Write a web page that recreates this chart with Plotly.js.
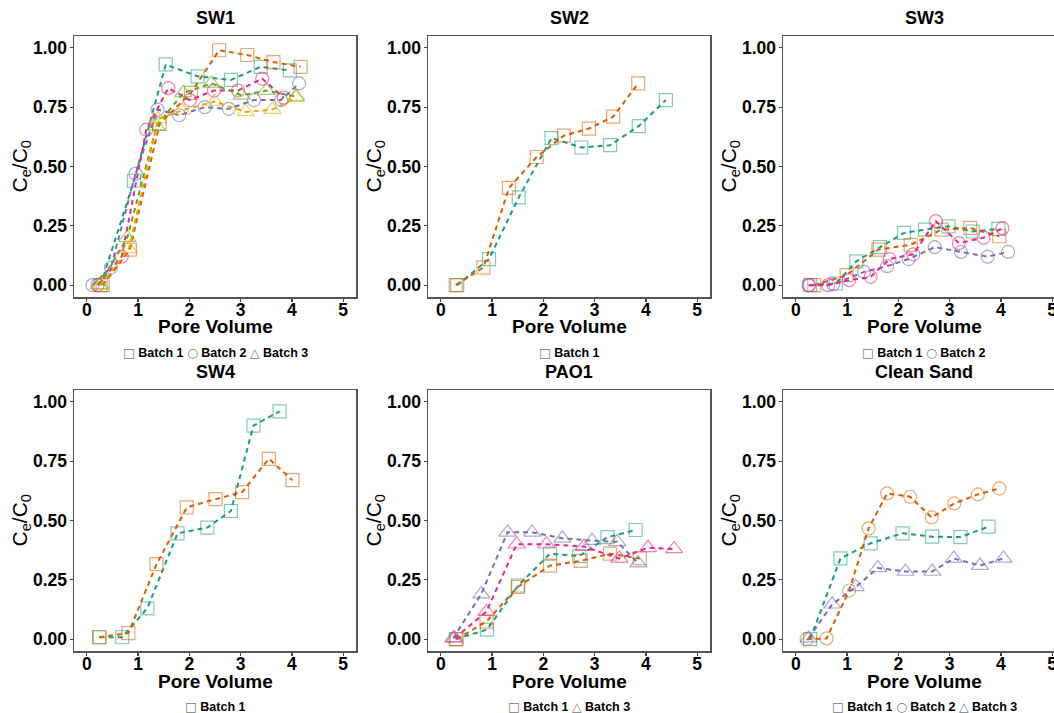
<!DOCTYPE html>
<html><head><meta charset="utf-8">
<script src="https://cdn.plot.ly/plotly-3.0.1.min.js"></script>
<style>html,body{margin:0;padding:0;overflow:hidden;background:#fff}#chart{width:1070px;height:713px}</style>
</head><body><div id="chart"></div>
<script>
// ---------- DATA ----------
const panelTitles = ["SW1", "SW2", "SW3", "SW4", "PAO1", "Clean Sand"];
const legendTexts = [
  ["Batch 1", "Batch 2", "Batch 3"],
  ["Batch 1"],
  ["Batch 1", "Batch 2"],
  ["Batch 1"],
  ["Batch 1", "Batch 3"],
  ["Batch 1", "Batch 2", "Batch 3"]
];
const xTickVals = [0, 1, 2, 3, 4, 5];
const yTickVals = [0, 0.25, 0.5, 0.75, 1.0];

// SW1
const sw1_a_x = [0.27, 0.92, 1.54, 2.16, 2.81, 3.39, 3.96];
const sw1_a_y = [0.00, 0.44, 0.93, 0.88, 0.865, 0.92, 0.905];
const sw1_b_x = [0.31, 0.84, 1.42, 2.03, 2.58, 3.13, 3.64, 4.17];
const sw1_b_y = [0.00, 0.15, 0.68, 0.81, 0.99, 0.97, 0.94, 0.92];
const sw1_c_x = [0.11, 0.47, 0.95, 1.38, 1.80, 2.30, 2.77, 3.26, 3.79, 4.14];
const sw1_c_y = [0.00, 0.074, 0.47, 0.74, 0.716, 0.75, 0.743, 0.78, 0.78, 0.85];
const sw1_d_x = [0.21, 0.68, 1.16, 1.59, 2.01, 2.48, 2.95, 3.42, 3.84];
const sw1_d_y = [0.00, 0.12, 0.655, 0.83, 0.78, 0.82, 0.82, 0.87, 0.79];
const sw1_e_x = [0.24, 0.79, 1.36, 1.88, 2.43, 3.02, 3.50, 4.08];
const sw1_e_y = [0.00, 0.20, 0.67, 0.81, 0.85, 0.80, 0.82, 0.795];
const sw1_f_x = [0.27, 0.82, 1.39, 1.85, 2.49, 3.10, 3.62, 4.08];
const sw1_f_y = [0.00, 0.153, 0.70, 0.736, 0.774, 0.73, 0.74, 0.79];
// SW2
const sw2_a_x = [0.32, 0.94, 1.52, 2.16, 2.74, 3.30, 3.86, 4.39];
const sw2_a_y = [0.00, 0.11, 0.37, 0.62, 0.58, 0.59, 0.67, 0.78];
const sw2_b_x = [0.29, 0.83, 1.33, 1.87, 2.40, 2.89, 3.36, 3.85];
const sw2_b_y = [0.00, 0.074, 0.41, 0.54, 0.63, 0.66, 0.71, 0.85];
// SW3
const sw3_a_x = [0.28, 0.78, 1.18, 1.64, 2.11, 2.52, 2.98, 3.45, 3.95];
const sw3_a_y = [0.00, 0.007, 0.10, 0.16, 0.22, 0.234, 0.248, 0.226, 0.237];
const sw3_b_x = [0.36, 0.99, 1.61, 2.24, 2.84, 3.40, 3.97];
const sw3_b_y = [0.00, 0.042, 0.15, 0.17, 0.234, 0.241, 0.206];
const sw3_c_x = [0.26, 0.73, 1.33, 1.78, 2.20, 2.71, 3.22, 3.74, 4.14];
const sw3_c_y = [0.00, 0.004, 0.056, 0.08, 0.11, 0.16, 0.14, 0.12, 0.14];
const sw3_d_x = [0.25, 0.63, 1.04, 1.46, 1.83, 2.29, 2.73, 3.18, 3.66, 4.03];
const sw3_d_y = [0.00, 0.00, 0.021, 0.035, 0.11, 0.13, 0.27, 0.177, 0.20, 0.24];
// SW4
const sw4_a_x = [0.25, 0.69, 1.18, 1.77, 2.35, 2.81, 3.25, 3.76];
const sw4_a_y = [0.008, 0.008, 0.13, 0.446, 0.47, 0.54, 0.90, 0.96];
const sw4_b_x = [0.24, 0.81, 1.36, 1.95, 2.51, 3.03, 3.55, 4.01];
const sw4_b_y = [0.008, 0.025, 0.316, 0.555, 0.59, 0.62, 0.76, 0.67];
// PAO1
const pao_a_x = [0.29, 0.90, 1.51, 2.13, 2.70, 3.25, 3.80];
const pao_a_y = [0.00, 0.04, 0.226, 0.36, 0.35, 0.43, 0.46];
const pao_b_x = [0.31, 0.89, 1.50, 2.13, 2.73, 3.30, 3.88];
const pao_b_y = [0.00, 0.074, 0.22, 0.31, 0.33, 0.36, 0.34];
const pao_c_x = [0.24, 0.79, 1.30, 1.78, 2.37, 2.95, 3.44, 3.85];
const pao_c_y = [0.004, 0.19, 0.45, 0.45, 0.425, 0.415, 0.41, 0.32];
const pao_d_x = [0.27, 0.89, 1.48, 2.06, 2.79, 3.48, 4.04, 4.55];
const pao_d_y = [0.004, 0.116, 0.40, 0.40, 0.39, 0.34, 0.385, 0.38];
// Clean Sand
const cs_a_x = [0.28, 0.87, 1.46, 2.08, 2.66, 3.21, 3.76];
const cs_a_y = [0.00, 0.34, 0.404, 0.446, 0.432, 0.43, 0.474];
const cs_b_x = [0.21, 0.60, 1.04, 1.42, 1.78, 2.23, 2.65, 3.09, 3.55, 3.97];
const cs_b_y = [0.00, 0.003, 0.205, 0.467, 0.614, 0.60, 0.513, 0.572, 0.61, 0.635];
const cs_c_x = [0.25, 0.71, 1.17, 1.60, 2.14, 2.66, 3.08, 3.59, 4.05];
const cs_c_y = [0.004, 0.147, 0.22, 0.30, 0.285, 0.285, 0.34, 0.31, 0.34];

// ---------- STYLE ----------
const COL = {
  green: ["#1B9E77", "rgba(27,158,119,0.55)"],
  orange: ["#D95F02", "rgba(217,95,2,0.55)"],
  purple: ["#7570B3", "rgba(117,112,179,0.6)"],
  pink: ["#E7298A", "rgba(231,41,138,0.6)"],
  lgreen: ["#66A61E", "rgba(102,166,30,0.6)"],
  yellow: ["#E6AB02", "rgba(230,171,2,0.6)"]
};
const SYM = {sq: "square-open", ci: "circle-open", tr: "triangle-up-open"};

const series = [
  [0, sw1_a_x, sw1_a_y, "green", "sq"],
  [0, sw1_b_x, sw1_b_y, "orange", "sq"],
  [0, sw1_c_x, sw1_c_y, "purple", "ci"],
  [0, sw1_d_x, sw1_d_y, "pink", "ci"],
  [0, sw1_e_x, sw1_e_y, "lgreen", "tr"],
  [0, sw1_f_x, sw1_f_y, "yellow", "tr"],
  [1, sw2_a_x, sw2_a_y, "green", "sq"],
  [1, sw2_b_x, sw2_b_y, "orange", "sq"],
  [2, sw3_a_x, sw3_a_y, "green", "sq"],
  [2, sw3_b_x, sw3_b_y, "orange", "sq"],
  [2, sw3_c_x, sw3_c_y, "purple", "ci"],
  [2, sw3_d_x, sw3_d_y, "pink", "ci"],
  [3, sw4_a_x, sw4_a_y, "green", "sq"],
  [3, sw4_b_x, sw4_b_y, "orange", "sq"],
  [4, pao_a_x, pao_a_y, "green", "sq"],
  [4, pao_b_x, pao_b_y, "orange", "sq"],
  [4, pao_c_x, pao_c_y, "purple", "tr"],
  [4, pao_d_x, pao_d_y, "pink", "tr"],
  [5, cs_a_x, cs_a_y, "green", "sq"],
  [5, cs_b_x, cs_b_y, "orange", "ci"],
  [5, cs_c_x, cs_c_y, "purple", "tr"]
];

const W = 1070, H = 713;
const colX = [[74, 356], [428, 710], [783, 1065]];
const rowY = [[36, 297], [390, 651]];
const FONT = "Liberation Sans, Arial, sans-serif";

const traces = series.map(s => {
  const p = s[0];
  const ax = p === 0 ? "" : String(p + 1);
  const sz = s[4] === "tr" ? 15 : 13;
  return {
    x: s[1], y: s[2], type: "scatter", mode: "lines+markers",
    xaxis: "x" + ax, yaxis: "y" + ax, showlegend: false, hoverinfo: "skip",
    line: {color: COL[s[3]][0], width: 2, dash: "5px,4px"},
    marker: {symbol: SYM[s[4]], size: sz, color: COL[s[3]][1], line: {width: 1.2}}
  };
});

const layout = {
  width: W, height: H, margin: {l: 0, r: 0, t: 0, b: 0},
  paper_bgcolor: "#fff", plot_bgcolor: "#fff",
  showlegend: false, annotations: []
};

const symChar = {"Batch 1": "□", "Batch 2": "○", "Batch 3": "△"};

for (let p = 0; p < 6; p++) {
  const c = p % 3, r = Math.floor(p / 3);
  const ax = p === 0 ? "" : String(p + 1);
  const x0 = colX[c][0], x1 = colX[c][1], y0 = rowY[r][0], y1 = rowY[r][1];
  const common = {
    showgrid: false, zeroline: false, showline: true, mirror: true,
    linecolor: "#555", linewidth: 1.5, ticks: "outside", ticklen: 3,
    tickcolor: "#444", tickwidth: 1.2,
    tickfont: {family: FONT, size: 17.5, color: "#000", weight: "bold"}
  };
  layout["xaxis" + ax] = Object.assign({}, common, {
    domain: [x0 / W, x1 / W], range: [-0.25, 5.25],
    tickvals: xTickVals, ticktext: xTickVals.map(String),
    ticklabelstandoff: -7,
    anchor: "y" + ax
  });
  layout["yaxis" + ax] = Object.assign({}, common, {
    domain: [1 - y1 / H, 1 - y0 / H], range: [-0.05, 1.05],
    tickvals: yTickVals, ticktext: yTickVals.map(v => v.toFixed(2)),
    ticklabelstandoff: -1,
    anchor: "x" + ax
  });
  const cx = (x0 + x1) / 2;
  // Panel title
  layout.annotations.push({
    text: panelTitles[p], xref: "paper", yref: "paper",
    x: cx / W, y: 1 - (y0 - 18) / H, xanchor: "center", yanchor: "middle",
    showarrow: false, font: {family: FONT, size: 18, color: "#000", weight: "bold"}
  });
  // X title
  layout.annotations.push({
    text: "Pore Volume", xref: "paper", yref: "paper",
    x: cx / W, y: 1 - (y1 + 30) / H, xanchor: "center", yanchor: "middle",
    showarrow: false, font: {family: FONT, size: 19, color: "#000", weight: "bold"}
  });
  // Y title
  layout.annotations.push({
    text: "C<sub>e</sub>/C<sub>0</sub>", xref: "paper", yref: "paper",
    x: (x0 - 54) / W, y: 1 - ((y0 + y1) / 2) / H, xanchor: "center", yanchor: "middle",
    textangle: -90, showarrow: false, font: {family: FONT, size: 21, color: "#000"}
  });
  // Legend line
  const leg = legendTexts[p].map(t =>
    '<span style="color:#777;font-weight:normal;font-family:DejaVu Sans">' + symChar[t] + '</span> ' + t
  ).join(' ');
  layout.annotations.push({
    text: leg, xref: "paper", yref: "paper",
    x: cx / W, y: 1 - (y1 + 55) / H, xanchor: "center", yanchor: "middle",
    showarrow: false, font: {family: FONT, size: 12.5, color: "#000", weight: "bold"}
  });
}

Plotly.newPlot("chart", traces, layout, {staticPlot: true, displayModeBar: false});
</script></body></html>
